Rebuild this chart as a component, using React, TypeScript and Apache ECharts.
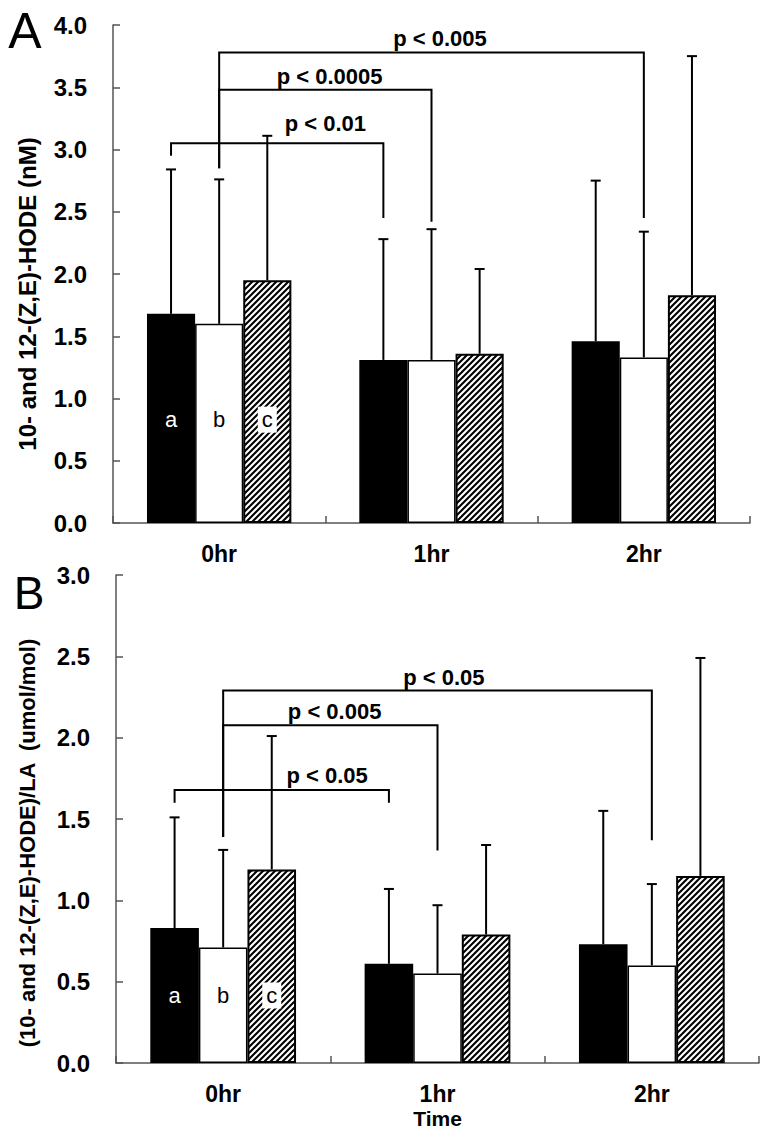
import React, { useEffect, useRef } from "react";
import * as echarts from "echarts";

// ---------- data ----------
const categories = ["0hr", "1hr", "2hr"];
const groupLetters = ["a", "b", "c"];

// Panel A: 10- and 12-(Z,E)-HODE (nM)
const aMeanA = [1.68, 1.31, 1.46];
const aMeanB = [1.6, 1.31, 1.33];
const aMeanC = [1.95, 1.36, 1.83];
const aSdA = [1.16, 0.97, 1.29];
const aSdB = [1.16, 1.05, 1.01];
const aSdC = [1.16, 0.68, 1.92];

// Panel B: (10- and 12-(Z,E)-HODE)/LA (umol/mol)
const bMeanA = [0.83, 0.61, 0.73];
const bMeanB = [0.71, 0.55, 0.6];
const bMeanC = [1.19, 0.79, 1.15];
const bSdA = [0.68, 0.46, 0.82];
const bSdB = [0.6, 0.42, 0.5];
const bSdC = [0.82, 0.55, 1.34];

// significance brackets:
// [fromCat, fromGroup, toCat, toGroup, level, leftEnd, rightEnd, labelCat, labelBase]
const bracketsA = [
  [0, 0, 1, 0, 3.05, 2.95, 2.45, 0.5, 3.12],
  [0, 1, 1, 1, 3.48, 2.85, 2.42, 0.52, 3.5],
  [0, 1, 2, 1, 3.78, 2.85, 2.45, 1.04, 3.8],
];
const bracketLabelsA = ["p < 0.01", "p < 0.0005", "p < 0.005"];
const bracketsB = [
  [0, 0, 1, 0, 1.678, 1.6, 1.6, 0.485, 1.7],
  [0, 1, 1, 1, 2.077, 1.39, 1.307, 0.52, 2.095],
  [0, 1, 2, 1, 2.29, 1.39, 1.37, 1.03, 2.3],
];
const bracketLabelsB = ["p < 0.05", "p < 0.005", "p < 0.05"];

const yTicksA = { min: 0, max: 4, interval: 0.5 };
const yTicksB = { min: 0, max: 3, interval: 0.5 };
const letterLevelA = 0.83;
const letterLevelB = 0.415;

const yNameA = "10- and 12-(Z,E)-HODE (nM)";
const yNameB = "(10- and 12-(Z,E)-HODE)/LA  (umol/mol)";
const xNameB = "Time";

// ---------- styles ----------
const FONT = "'Liberation Sans', Arial, Helvetica, sans-serif";
const GAP = 0.32;
const AXIS_COLOR = "#555";

function hatchPattern() {
  const c = document.createElement("canvas");
  c.width = 6;
  c.height = 6;
  const ctx = c.getContext("2d")!;
  ctx.fillStyle = "#fff";
  ctx.fillRect(0, 0, 6, 6);
  ctx.strokeStyle = "#000";
  ctx.lineWidth = 2.1;
  ctx.beginPath();
  ctx.moveTo(-1, 7);
  ctx.lineTo(7, -1);
  ctx.moveTo(-4, 4);
  ctx.lineTo(4, -4);
  ctx.moveTo(2, 10);
  ctx.lineTo(10, 2);
  ctx.stroke();
  return {
    image: c.toDataURL(),
    repeat: "repeat",
    imageWidth: 6,
    imageHeight: 6,
  };
}

function barX(api: any, cat: number, grp: number) {
  const c = api.coord([cat, 0]);
  const band = api.size([1, 0])[0];
  const bw = (band * (1 - GAP)) / 3;
  return c[0] + (grp - 1) * bw;
}

function errorSeries(idx: number, means: number[][], sds: number[][]) {
  const data: number[][] = [];
  for (let g = 0; g < 3; g++)
    for (let c = 0; c < categories.length; c++) data.push([c, g, means[g][c], sds[g][c]]);
  return {
    type: "custom",
    xAxisIndex: idx,
    yAxisIndex: idx,
    z: 5,
    encode: { x: 0, y: 2 },
    data,
    renderItem: (params: any, api: any) => {
      const cat = api.value(0);
      const g = api.value(1);
      const m = api.value(2);
      const s = api.value(3);
      const x = barX(api, cat, g);
      const y0 = api.coord([cat, m])[1];
      const y1 = api.coord([cat, m + s])[1];
      const st = { stroke: "#000", lineWidth: 2 };
      return {
        type: "group",
        children: [
          { type: "line", shape: { x1: x, y1: y0, x2: x, y2: y1 }, style: st },
          { type: "line", shape: { x1: x - 5, y1: y1, x2: x + 5, y2: y1 }, style: st },
        ],
      };
    },
  };
}

function bracketSeries(idx: number, brackets: number[][], labels: string[]) {
  return {
    type: "custom",
    xAxisIndex: idx,
    yAxisIndex: idx,
    z: 6,
    data: brackets,
    encode: { x: 0, y: 4 },
    renderItem: (params: any, api: any) => {
      const b = brackets[params.dataIndex];
      const xl = barX(api, b[0], b[1]);
      const xr = barX(api, b[2], b[3]);
      const yL = api.coord([0, b[4]])[1];
      const yl = api.coord([0, b[5]])[1];
      const yr = api.coord([0, b[6]])[1];
      const band = api.size([1, 0])[0];
      const lx = api.coord([0, 0])[0] + b[7] * band;
      const ly = api.coord([0, b[8]])[1];
      return {
        type: "group",
        children: [
          {
            type: "polyline",
            shape: { points: [[xl, yl], [xl, yL], [xr, yL], [xr, yr]] },
            style: { stroke: "#000", lineWidth: 2, fill: "none" },
          },
          {
            type: "text",
            x: lx,
            y: ly,
            style: {
              text: labels[params.dataIndex],
              font: `bold 22px ${FONT}`,
              fill: "#000",
              align: "center",
              verticalAlign: "bottom",
            },
          },
        ],
      };
    },
  };
}

function letterSeries(idx: number, level: number) {
  const data = groupLetters.map((_, g) => [0, g, level]);
  return {
    type: "custom",
    xAxisIndex: idx,
    yAxisIndex: idx,
    z: 7,
    data,
    encode: { x: 0, y: 2 },
    renderItem: (params: any, api: any) => {
      const g = api.value(1);
      const x = barX(api, api.value(0), g);
      const y = api.coord([0, api.value(2)])[1];
      return {
        type: "text",
        x,
        y,
        style: {
          text: groupLetters[g],
          font: `22px ${FONT}`,
          fill: g === 0 ? "#fff" : "#000",
          align: "center",
          verticalAlign: "middle",
          backgroundColor: g === 2 ? "#fff" : undefined,
          padding: g === 2 ? [2, 4, 2, 4] : 0,
        },
      };
    },
  };
}

function barSeries(idx: number, means: number[][], hatch: any) {
  const styles = [
    { color: "#000", borderColor: "#000", borderWidth: 1.5 },
    { color: "#fff", borderColor: "#000", borderWidth: 1.5 },
    { color: hatch, borderColor: "#000", borderWidth: 2 },
  ];
  return means.map((m, g) => ({
    type: "bar",
    name: groupLetters[g],
    xAxisIndex: idx,
    yAxisIndex: idx,
    data: m,
    barGap: "0%",
    barCategoryGap: `${GAP * 100}%`,
    itemStyle: styles[g],
    z: 2,
  }));
}

export default function App() {
  const ref = useRef<HTMLDivElement>(null);
  useEffect(() => {
    if (!ref.current) return;
    const chart = echarts.init(ref.current, undefined, { renderer: "svg" });
    const hatch = hatchPattern();
    const xAxisBase = (i: number) => ({
      type: "category",
      gridIndex: i,
      data: categories,
      axisLine: { show: true, lineStyle: { color: AXIS_COLOR, width: 1.5 } },
      axisTick: { show: true, inside: true, length: 7, lineStyle: { color: AXIS_COLOR, width: 1.5 } },
      axisLabel: { color: "#000", fontSize: 23, fontWeight: "bold", fontFamily: FONT, margin: 19 },
      splitLine: { show: false },
    });
    const yAxisBase = (i: number, t: any) => ({
      type: "value",
      gridIndex: i,
      min: t.min,
      max: t.max,
      interval: t.interval,
      axisLine: { show: true, lineStyle: { color: AXIS_COLOR, width: 1.5 } },
      axisTick: { show: true, inside: true, length: 7, lineStyle: { color: AXIS_COLOR, width: 1.5 } },
      axisLabel: {
        color: "#000",
        fontSize: 24,
        fontWeight: "bold",
        fontFamily: FONT,
        margin: 26,
        formatter: (v: number) => v.toFixed(1),
      },
      splitLine: { show: false },
    });
    const option: any = {
      animation: false,
      backgroundColor: "#fff",
      textStyle: { fontFamily: FONT },
      grid: [
        { left: 113, top: 25, width: 637, height: 498 },
        { left: 116, top: 575, width: 643, height: 488 },
      ],
      xAxis: [
        xAxisBase(0),
        {
          ...xAxisBase(1),
          name: xNameB,
          nameLocation: "middle",
          nameGap: 45,
          nameTextStyle: { color: "#000", fontSize: 21, fontWeight: "bold", fontFamily: FONT },
        },
      ],
      yAxis: [yAxisBase(0, yTicksA), yAxisBase(1, yTicksB)],
      graphic: [
        {
          type: "text",
          x: 25,
          y: 31,
          style: { text: "A", font: `50px ${FONT}`, fill: "#000", align: "center", verticalAlign: "middle" },
        },
        {
          type: "text",
          x: 29,
          y: 593,
          style: { text: "B", font: `46px ${FONT}`, fill: "#000", align: "center", verticalAlign: "middle" },
        },
        {
          type: "text",
          x: 27,
          y: 294,
          rotation: Math.PI / 2,
          style: { text: yNameA, font: `bold 24px ${FONT}`, fill: "#000", align: "center", verticalAlign: "middle" },
        },
        {
          type: "text",
          x: 27,
          y: 843,
          rotation: Math.PI / 2,
          style: { text: yNameB, font: `bold 22px ${FONT}`, fill: "#000", align: "center", verticalAlign: "middle" },
        },
      ],
      series: [
        ...barSeries(0, [aMeanA, aMeanB, aMeanC], hatch),
        errorSeries(0, [aMeanA, aMeanB, aMeanC], [aSdA, aSdB, aSdC]),
        bracketSeries(0, bracketsA, bracketLabelsA),
        letterSeries(0, letterLevelA),
        ...barSeries(1, [bMeanA, bMeanB, bMeanC], hatch),
        errorSeries(1, [bMeanA, bMeanB, bMeanC], [bSdA, bSdB, bSdC]),
        bracketSeries(1, bracketsB, bracketLabelsB),
        letterSeries(1, letterLevelB),
      ],
    };
    chart.setOption(option);
    return () => chart.dispose();
  }, []);
  return (
    <div
      ref={ref}
      style={{ position: "absolute", left: 0, top: 0, width: 766, height: 1134, background: "#fff" }}
    />
  );
}
